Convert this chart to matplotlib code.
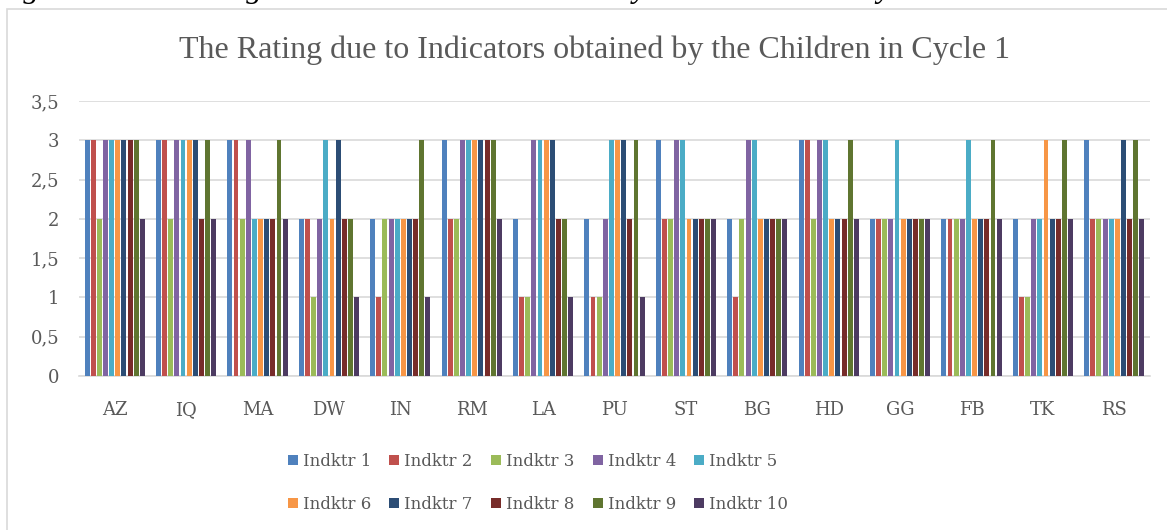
# rating per indicator for each child, cycle 1

import numpy as np
import matplotlib.pyplot as plt
from matplotlib.patches import Rectangle

children = ["AZ", "IQ", "MA", "DW", "IN", "RM", "LA", "PU", "ST", "BG", "HD", "GG", "FB", "TK", "RS"]
labels = ["Indktr 1", "Indktr 2", "Indktr 3", "Indktr 4", "Indktr 5",
          "Indktr 6", "Indktr 7", "Indktr 8", "Indktr 9", "Indktr 10"]

ind1 = [3, 3, 3, 2, 2, 3, 2, 2, 3, 2, 3, 2, 2, 2, 3]
ind2 = [3, 3, 3, 2, 1, 2, 1, 1, 2, 1, 3, 2, 2, 1, 2]
ind3 = [2, 2, 2, 1, 2, 2, 1, 1, 2, 2, 2, 2, 2, 1, 2]
ind4 = [3, 3, 3, 2, 2, 3, 3, 2, 3, 3, 3, 2, 2, 2, 2]
ind5 = [3, 3, 2, 3, 2, 3, 3, 3, 3, 3, 3, 3, 3, 2, 2]
ind6 = [3, 3, 2, 2, 2, 3, 3, 3, 2, 2, 2, 2, 2, 3, 2]
ind7 = [3, 3, 2, 3, 2, 3, 3, 3, 2, 2, 2, 2, 2, 2, 3]
ind8 = [3, 2, 2, 2, 2, 3, 2, 2, 2, 2, 2, 2, 2, 2, 2]
ind9 = [3, 3, 3, 2, 3, 3, 2, 3, 2, 2, 3, 2, 3, 3, 3]
ind10 = [2, 2, 2, 1, 1, 2, 1, 1, 2, 2, 2, 2, 2, 2, 2]
series = [ind1, ind2, ind3, ind4, ind5, ind6, ind7, ind8, ind9, ind10]

colors = ["#4f81bd", "#c0504d", "#9bbb59", "#8064a2", "#4bacc6",
          "#f79646", "#2c4d75", "#772c2a", "#5f7530", "#4d3b62"]

fig = plt.figure(figsize=(11.67, 5.3), dpi=100)
ax = fig.add_axes([79 / 1167, 1 - 376 / 530, (1150 - 79) / 1167, 275 / 530])

x = np.arange(len(children))
slot = 0.086
for i, vals in enumerate(series):
    ax.bar(x + (i - 4.5) * slot, vals, width=slot * 0.8, color=colors[i], label=labels[i], zorder=3)

ax.set_xlim(-0.5, len(children) - 0.5)
ax.set_ylim(0, 3.5)
ax.set_yticks(np.arange(0, 3.51, 0.5))
ax.set_yticklabels([("%g" % v).replace(".", ",") for v in np.arange(0, 3.51, 0.5)])
ax.set_xticks(x)
ax.set_xticklabels(children)
ax.grid(axis="y", color="#d9d9d9", lw=1.2, zorder=0)
for s in ["top", "right", "left"]:
    ax.spines[s].set_visible(False)
ax.spines["bottom"].set_color("#d9d9d9")
ax.spines["bottom"].set_linewidth(1.2)
ax.tick_params(length=0, labelcolor="#595959")
ax.tick_params(axis="x", pad=18)
ax.tick_params(axis="y", pad=14)
for t in ax.get_xticklabels() + ax.get_yticklabels():
    t.set_family("DejaVu Serif")
    t.set_fontsize(13)

fig.text(0.509, 1 - 50 / 530, "The Rating due to Indicators obtained by the Children in Cycle 1",
         ha="center", va="center", fontsize=23, color="#595959", family="Liberation Serif")

# caption of the source page, cut off at the top
fig.text(-0.004, 1 + 3 / 530, "Figure 3. The Rating due to Indicators obtained by the Children in Cycle 1",
         ha="left", va="baseline", fontsize=23, style="italic", color="black", family="Liberation Serif")

fig.patches.append(Rectangle((7 / 1167, -0.1), 1.2, 1 - 9 / 530 + 0.1, transform=fig.transFigure,
                             fill=False, edgecolor="#d9d9d9", lw=1.2))

# legend filled row by row, as in the original
handles, names = ax.get_legend_handles_labels()
order = [0, 5, 1, 6, 2, 7, 3, 8, 4, 9]
leg = fig.legend([handles[k] for k in order], [names[k] for k in order],
                 loc="upper center", bbox_to_anchor=(0.461, 1 - 438 / 530), ncol=5, frameon=False,
                 handlelength=0.6, handleheight=0.6, handletextpad=0.3, columnspacing=1.1,
                 labelspacing=1.55, prop={"family": "DejaVu Serif", "size": 12})
for t in leg.get_texts():
    t.set_color("#595959")

fig.savefig("out.png", dpi=100)
